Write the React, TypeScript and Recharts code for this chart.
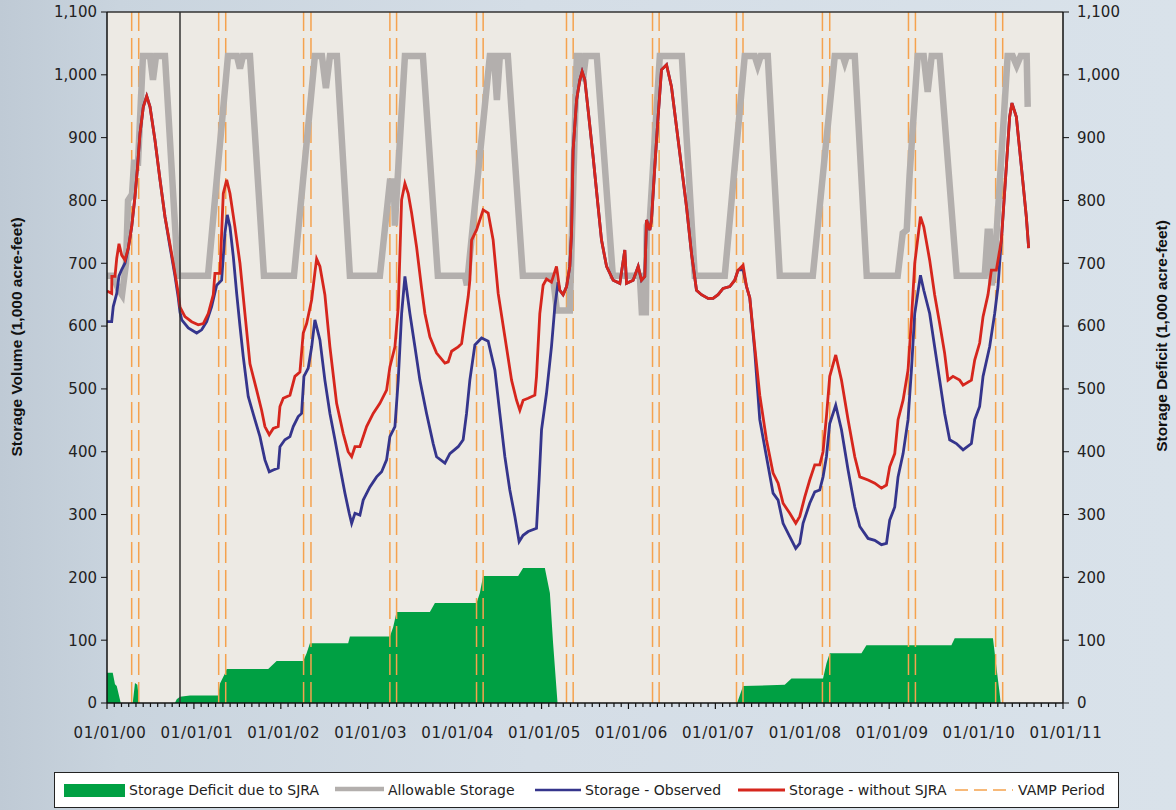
import React from 'react';
import { ComposedChart, Line, Area, XAxis, YAxis, ReferenceLine, ReferenceArea } from 'recharts';

// x values are decimal years
const yearLabels = ['01/01/00','01/01/01','01/01/02','01/01/03','01/01/04','01/01/05','01/01/06','01/01/07','01/01/08','01/01/09','01/01/10','01/01/11'];
const yTicks = [0,100,200,300,400,500,600,700,800,900,1000,1100];

const vampStart = [2000.284, 2001.285, 2002.262, 2003.255, 2004.252, 2005.287, 2006.277, 2007.243, 2008.232, 2009.222, 2010.225];
const vampEnd = [2000.365, 2001.366, 2002.347, 2003.332, 2004.328, 2005.364, 2006.353, 2007.318, 2008.316, 2009.302, 2010.306];
const markerDate = 2000.84;

const deficit: [number, number][] = [
  [2000.0,48],[2000.066,48],[2000.092,30],[2000.112,27],[2000.158,0],[2000.296,0],[2000.322,32],[2000.349,29],[2000.372,0],
  [2000.782,0],[2000.802,6],[2000.84,10],[2000.955,12],[2001.28,12],[2001.30,31],[2001.357,47],[2001.377,54],[2001.855,54],
  [2001.952,67],[2002.258,67],[2002.297,79],[2002.335,95],[2002.775,95],[2002.795,106],[2003.255,106],[2003.293,121],
  [2003.332,145],[2003.715,145],[2003.773,159],[2004.252,159],[2004.29,175],[2004.328,202],[2004.731,202],[2004.788,215],
  [2005.038,215],[2005.096,175],[2005.133,95],[2005.184,0],[2007.25,0],[2007.319,27],[2007.798,29],[2007.876,39],
  [2008.239,39],[2008.278,63],[2008.316,79],[2008.681,79],[2008.738,92],[2009.716,92],[2009.754,103],[2010.194,103],
  [2010.233,58],[2010.271,15],[2010.283,0],
];

const allowable: [number, number][] = [
  [2000.0,680],[2000.069,680],[2000.127,660],[2000.173,650],[2000.219,700],[2000.242,800],[2000.288,810],[2000.311,860],
  [2000.357,860],[2000.414,1030],[2000.495,1030],[2000.529,992],[2000.564,1030],[2000.667,1030],[2000.817,680],
  [2001.162,680],[2001.392,1030],[2001.495,1030],[2001.530,1010],[2001.564,1030],[2001.645,1030],[2001.806,680],
  [2002.151,680],[2002.392,1030],[2002.473,1030],[2002.519,979],[2002.565,1030],[2002.645,1030],[2002.795,680],
  [2003.140,680],[2003.255,830],[2003.301,830],[2003.312,760],[2003.428,1030],[2003.635,1030],[2003.807,680],
  [2004.118,680],[2004.141,665],[2004.405,1030],[2004.452,1030],[2004.486,960],[2004.520,1030],[2004.612,1030],[2004.785,680],
  [2005.130,680],[2005.176,625],[2005.325,625],[2005.406,1030],[2005.441,1030],[2005.475,990],[2005.510,1030],[2005.636,1030],[2005.820,680],
  [2006.131,680],[2006.154,622],[2006.200,622],[2006.211,760],[2006.246,770],[2006.361,1030],[2006.614,1030],[2006.763,680],
  [2007.108,680],[2007.338,1030],[2007.453,1030],[2007.487,1015],[2007.522,1030],[2007.603,1030],[2007.741,680],
  [2008.121,680],[2008.374,1030],[2008.466,1030],[2008.489,1020],[2008.512,1030],[2008.604,1030],[2008.742,680],
  [2009.098,680],[2009.156,748],[2009.202,753],[2009.236,843],[2009.328,1030],[2009.397,1030],[2009.443,973],[2009.489,1030],[2009.581,1030],[2009.777,680],
  [2010.076,680],[2010.099,680],[2010.133,750],[2010.157,750],[2010.180,665],[2010.214,700],[2010.363,1030],[2010.421,1030],
  [2010.467,1015],[2010.513,1030],[2010.582,1030],[2010.594,949],
];

const observed: [number, number][] = [
  [2000.000,607],[2000.054,607],[2000.072,631],[2000.112,652],[2000.138,680],[2000.169,690],[2000.207,700],[2000.245,724],
  [2000.284,758],[2000.322,806],[2000.349,849],[2000.380,907],[2000.418,949],[2000.457,966],[2000.495,949],[2000.552,896],
  [2000.610,833],[2000.667,774],[2000.725,726],[2000.782,680],[2000.820,645],[2000.840,622],[2000.860,610],[2000.935,597],
  [2001.032,589],[2001.089,594],[2001.147,607],[2001.204,631],[2001.262,665],[2001.319,673],[2001.357,748],[2001.384,777],
  [2001.415,758],[2001.453,711],[2001.492,652],[2001.530,600],[2001.568,551],[2001.625,488],[2001.702,451],[2001.760,424],
  [2001.817,387],[2001.867,368],[2001.913,371],[2001.970,374],[2001.990,408],[2002.047,419],[2002.105,424],[2002.143,440],
  [2002.200,456],[2002.239,461],[2002.266,520],[2002.315,533],[2002.355,567],[2002.392,610],[2002.450,578],[2002.507,514],
  [2002.565,461],[2002.623,419],[2002.680,376],[2002.738,334],[2002.787,302],[2002.815,286],[2002.853,302],[2002.910,299],
  [2002.948,323],[2003.025,344],[2003.102,360],[2003.160,368],[2003.217,387],[2003.255,424],[2003.313,440],[2003.351,514],
  [2003.390,620],[2003.428,679],[2003.485,620],[2003.543,567],[2003.600,514],[2003.677,461],[2003.753,413],[2003.792,392],
  [2003.888,382],[2003.945,397],[2004.041,408],[2004.098,419],[2004.137,461],[2004.175,514],[2004.233,570],[2004.310,581],
  [2004.386,576],[2004.463,530],[2004.520,461],[2004.578,392],[2004.635,339],[2004.693,297],[2004.742,257],[2004.788,267],
  [2004.846,273],[2004.942,278],[2004.972,355],[2005.000,435],[2005.057,493],[2005.114,567],[2005.153,631],[2005.190,670],
  [2005.210,657],[2005.248,650],[2005.288,663],[2005.325,695],[2005.345,748],[2005.363,880],[2005.403,960],[2005.441,992],
  [2005.467,1005],[2005.498,992],[2005.536,944],[2005.593,870],[2005.651,790],[2005.690,737],[2005.748,695],[2005.824,673],
  [2005.901,668],[2005.958,721],[2005.978,668],[2006.054,673],[2006.112,695],[2006.150,673],[2006.188,679],[2006.208,769],
  [2006.246,753],[2006.265,769],[2006.303,854],[2006.341,933],[2006.380,1008],[2006.438,1016],[2006.495,981],[2006.553,917],
  [2006.610,854],[2006.668,790],[2006.725,716],[2006.783,657],[2006.840,650],[2006.916,644],[2006.974,644],[2007.031,650],
  [2007.089,660],[2007.166,663],[2007.223,673],[2007.261,689],[2007.319,690],[2007.358,663],[2007.396,645],[2007.453,560],
  [2007.511,451],[2007.588,392],[2007.664,334],[2007.722,323],[2007.779,286],[2007.856,265],[2007.925,246],[2007.971,254],
  [2008.009,286],[2008.086,318],[2008.144,336],[2008.201,339],[2008.239,360],[2008.278,392],[2008.316,445],[2008.385,474],
  [2008.451,435],[2008.527,371],[2008.604,312],[2008.662,281],[2008.757,262],[2008.834,259],[2008.911,252],[2008.969,254],
  [2009.006,291],[2009.064,312],[2009.102,360],[2009.160,397],[2009.217,451],[2009.256,530],[2009.294,620],[2009.360,681],
  [2009.398,657],[2009.466,620],[2009.523,567],[2009.581,514],[2009.638,461],[2009.696,419],[2009.773,413],[2009.850,403],
  [2009.946,413],[2009.984,451],[2010.041,472],[2010.080,520],[2010.156,567],[2010.214,620],[2010.252,663],[2010.271,700],
  [2010.291,737],[2010.348,854],[2010.386,933],[2010.413,955],[2010.463,933],[2010.521,854],[2010.578,774],[2010.605,724],
];

const withoutSJRA: [number, number][] = [
  [2000.000,656],[2000.054,652],[2000.056,679],[2000.092,679],[2000.112,708],[2000.138,731],[2000.169,713],[2000.207,705],
  [2000.245,724],[2000.284,758],[2000.322,806],[2000.349,849],[2000.380,907],[2000.418,949],[2000.457,966],[2000.495,949],
  [2000.552,896],[2000.610,833],[2000.667,774],[2000.725,730],[2000.782,684],[2000.820,652],[2000.840,630],[2000.897,615],
  [2000.974,607],[2001.050,602],[2001.108,604],[2001.165,620],[2001.223,650],[2001.242,684],[2001.300,684],[2001.338,811],
  [2001.377,833],[2001.415,811],[2001.472,758],[2001.530,700],[2001.587,620],[2001.645,540],[2001.722,498],[2001.779,466],
  [2001.817,440],[2001.867,427],[2001.913,437],[2001.970,440],[2001.990,472],[2002.028,485],[2002.105,490],[2002.162,520],
  [2002.220,527],[2002.258,589],[2002.297,604],[2002.355,642],[2002.392,685],[2002.412,707],[2002.450,695],[2002.507,650],
  [2002.565,567],[2002.642,477],[2002.718,429],[2002.775,400],[2002.815,392],[2002.853,408],[2002.910,408],[2002.987,440],
  [2003.063,461],[2003.140,477],[2003.217,498],[2003.255,535],[2003.313,567],[2003.351,630],[2003.390,801],[2003.428,827],
  [2003.466,811],[2003.505,780],[2003.562,726],[2003.620,660],[2003.658,620],[2003.715,583],[2003.792,557],[2003.888,541],
  [2003.926,543],[2003.965,560],[2004.041,567],[2004.080,572],[2004.118,610],[2004.156,647],[2004.175,673],[2004.195,737],
  [2004.252,753],[2004.328,785],[2004.386,780],[2004.443,737],[2004.501,652],[2004.578,583],[2004.655,514],[2004.712,482],
  [2004.750,466],[2004.788,482],[2004.846,485],[2004.923,490],[2004.942,520],[2004.980,620],[2005.018,665],[2005.057,675],
  [2005.114,670],[2005.172,695],[2005.210,657],[2005.248,650],[2005.288,663],[2005.325,695],[2005.345,748],[2005.363,880],
  [2005.403,960],[2005.441,992],[2005.467,1005],[2005.498,992],[2005.536,944],[2005.593,870],[2005.651,790],[2005.690,737],
  [2005.748,695],[2005.824,673],[2005.901,668],[2005.958,721],[2005.978,668],[2006.054,673],[2006.112,695],[2006.150,673],
  [2006.188,679],[2006.208,769],[2006.246,753],[2006.265,769],[2006.303,854],[2006.341,933],[2006.380,1008],[2006.438,1016],
  [2006.495,981],[2006.553,917],[2006.610,854],[2006.668,790],[2006.725,716],[2006.783,657],[2006.840,650],[2006.916,644],
  [2006.974,644],[2007.031,650],[2007.089,660],[2007.166,663],[2007.223,673],[2007.261,689],[2007.319,697],[2007.358,663],
  [2007.396,645],[2007.453,567],[2007.511,490],[2007.588,419],[2007.664,366],[2007.722,350],[2007.779,318],[2007.856,302],
  [2007.925,286],[2007.971,297],[2008.029,328],[2008.086,355],[2008.144,379],[2008.201,379],[2008.239,400],[2008.278,456],
  [2008.316,520],[2008.385,554],[2008.451,514],[2008.527,451],[2008.604,392],[2008.662,360],[2008.757,355],[2008.834,350],
  [2008.911,342],[2008.969,347],[2009.006,376],[2009.064,397],[2009.102,451],[2009.160,482],[2009.217,530],[2009.256,610],
  [2009.294,700],[2009.360,774],[2009.398,758],[2009.466,705],[2009.523,650],[2009.581,604],[2009.638,557],[2009.677,514],
  [2009.734,520],[2009.811,514],[2009.850,506],[2009.946,514],[2009.984,546],[2010.041,573],[2010.080,615],[2010.137,650],
  [2010.176,689],[2010.233,689],[2010.291,737],[2010.348,854],[2010.386,933],[2010.413,955],[2010.463,933],[2010.521,854],
  [2010.578,774],[2010.605,724],
];

const rows = (a: [number, number][]) => a.map(([t, v]) => ({ t, v }));
const monthTicks: number[] = [];
for (let m = 0; m <= 132; m++) monthTicks.push(2000 + m / 12);

const FONT = 'DejaVu Sans';
const AXIS = '#111';

function XTick(props: any) {
  const { x, y, payload } = props;
  const m = Math.round((payload.value - 2000) * 12);
  const major = m % 12 === 0;
  return (
    <g>
      <line x1={x} x2={x} y1={y} y2={y + (major ? 6 : 4)} stroke={AXIS} strokeWidth={1.2} />
      {major && (
        <text x={x + 3} y={y + 35} textAnchor="middle" fontFamily={FONT} fontSize={15} fill="#222" letterSpacing={0.7}>
          {yearLabels[m / 12]}
        </text>
      )}
    </g>
  );
}

const fmt = (v: number) => v.toLocaleString('en-US');

export default function App() {
  return (
    <div style={{ position: 'absolute', left: 0, top: 0, width: 1176, height: 810, overflow: 'hidden',
      background: 'linear-gradient(90deg, #bfcad5 0%, #c9d4de 10%, #d4dde6 45%, #d9e2ea 100%)' }}>
      <ComposedChart width={1176} height={810} margin={{ top: 12, right: 53, left: 47, bottom: 77 }}>
        <XAxis dataKey="t" type="number" domain={[2000, 2011]} ticks={monthTicks} interval={0}
          tickSize={0} tickMargin={0} tickLine={false} tick={<XTick />} height={30}
          axisLine={{ stroke: AXIS, strokeWidth: 1.5 }} allowDataOverflow />
        <YAxis yAxisId="left" domain={[0, 1100]} ticks={yTicks} interval={0} width={60} tickSize={6} tickMargin={4}
          tickFormatter={fmt} tick={{ fontFamily: FONT, fontSize: 15, fill: '#222' }}
          axisLine={{ stroke: AXIS, strokeWidth: 1.5 }} tickLine={{ stroke: AXIS }} allowDataOverflow />
        <YAxis yAxisId="right" orientation="right" domain={[0, 1100]} ticks={yTicks} interval={0} width={60} tickSize={6} tickMargin={8}
          tickFormatter={fmt} tick={{ fontFamily: FONT, fontSize: 15, fill: '#222', textAnchor: 'start' }}
          axisLine={{ stroke: AXIS, strokeWidth: 1.5 }} tickLine={{ stroke: AXIS }} allowDataOverflow />
        <ReferenceArea yAxisId="left" x1={2000} x2={2011} y1={0} y2={1100} fill="#edeae4" fillOpacity={1} stroke="none" />
        <Area yAxisId="right" data={rows(deficit)} dataKey="v" type="linear" fill="#00a043" fillOpacity={1} stroke="none"
          isAnimationActive={false} dot={false} activeDot={false} />
        {vampStart.map((d) => (
          <ReferenceLine key={'s' + d} yAxisId="left" x={d} stroke="#f5a24e" strokeWidth={1.5} strokeDasharray="21 7" />
        ))}
        {vampEnd.map((d) => (
          <ReferenceLine key={'e' + d} yAxisId="left" x={d} stroke="#f5a24e" strokeWidth={1.5} strokeDasharray="21 7" />
        ))}
        <Line yAxisId="left" data={rows(allowable)} dataKey="v" type="linear" stroke="#b3afad" strokeWidth={6.5}
          dot={false} activeDot={false} isAnimationActive={false} strokeLinejoin="miter" />
        <Line yAxisId="left" data={rows(observed)} dataKey="v" type="linear" stroke="#35358c" strokeWidth={2.8}
          dot={false} activeDot={false} isAnimationActive={false} />
        <Line yAxisId="left" data={rows(withoutSJRA)} dataKey="v" type="linear" stroke="#d6261d" strokeWidth={2.8}
          dot={false} activeDot={false} isAnimationActive={false} />
        <ReferenceLine yAxisId="left" x={markerDate} stroke="#333" strokeWidth={1.5} />
        <ReferenceLine yAxisId="left" y={1100} stroke="#333" strokeWidth={1.5} />
      </ComposedChart>

      <div style={{ position: 'absolute', left: 17, top: 337, transform: 'translate(-50%, -50%) rotate(-90deg)',
        whiteSpace: 'nowrap', fontFamily: 'Liberation Sans', fontWeight: 'bold', fontSize: 15.5, color: '#111' }}>
        Storage Volume (1,000 acre-feet)
      </div>
      <div style={{ position: 'absolute', left: 1162, top: 336, transform: 'translate(-50%, -50%) rotate(-90deg)',
        whiteSpace: 'nowrap', fontFamily: 'Liberation Sans', fontWeight: 'bold', fontSize: 15.5, color: '#111' }}>
        Storage Deficit (1,000 acre-feet)
      </div>

      <div style={{ position: 'absolute', left: 54, top: 772, width: 1063, height: 34, background: '#fff',
        border: '1.5px solid #222', fontFamily: FONT, fontSize: 14, color: '#222' }}>
        <svg width={1063} height={34} style={{ position: 'absolute', left: 0, top: 0 }}>
          <rect x={9} y={11} width={61} height={13} fill="#00a043" />
          <line x1={280} x2={329} y1={16} y2={16} stroke="#b3afad" strokeWidth={4.5} />
          <line x1={480} x2={526} y1={17} y2={17} stroke="#35358c" strokeWidth={2.5} />
          <line x1={683} x2={730} y1={17} y2={17} stroke="#d6261d" strokeWidth={3} />
          <line x1={900} x2={958} y1={17} y2={17} stroke="#f5a24e" strokeWidth={1.5} strokeDasharray="13 6" />
          <g fontFamily={FONT} fontSize={14} fill="#222">
            <text x={74} y={22}>Storage Deficit due to SJRA</text>
            <text x={333} y={22}>Allowable Storage</text>
            <text x={530} y={22}>Storage - Observed</text>
            <text x={734} y={22}>Storage - without SJRA</text>
            <text x={963} y={22}>VAMP Period</text>
          </g>
        </svg>
      </div>
    </div>
  );
}
